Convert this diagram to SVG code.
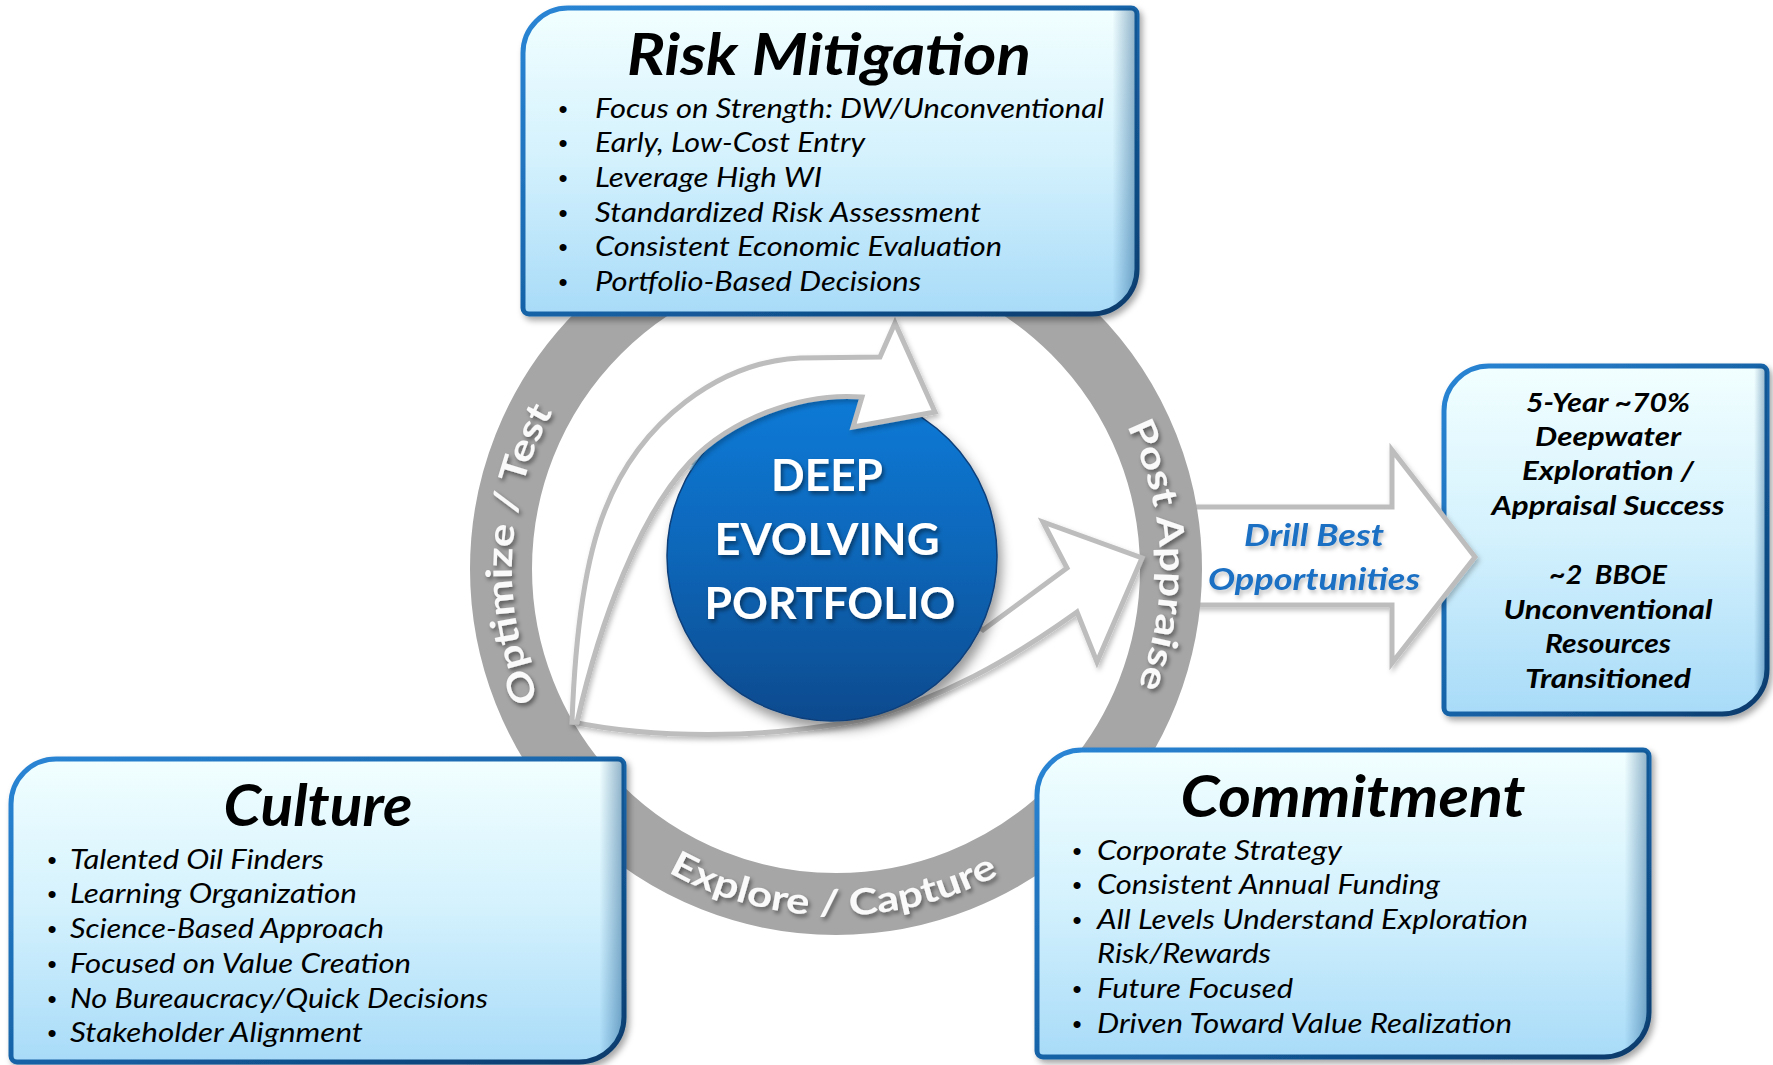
<svg xmlns="http://www.w3.org/2000/svg" width="1773" height="1065" viewBox="0 0 1773 1065">
<defs>
<style>
.box{fill:url(#boxFill);stroke:url(#boxStroke);stroke-width:5;filter:url(#sh)}
.edge{fill:url(#boxEdge);stroke:none}
.title{font-family:Lato,"Liberation Sans",sans-serif;font-weight:bold;font-style:italic;font-size:58px;fill:#000;text-anchor:middle}
.bl{font-family:Lato,"Liberation Sans",sans-serif;font-style:italic;font-size:27px;fill:#000}
.dot{font-family:"Liberation Sans",sans-serif;font-size:26px;fill:#000;text-anchor:middle}
.rt{font-family:Lato,"Liberation Sans",sans-serif;font-weight:bold;font-style:italic;font-size:27px;fill:#000;text-anchor:middle}
.ring{font-family:Lato,"Liberation Sans",sans-serif;font-weight:bold;font-size:36px;fill:#fafafa;filter:url(#tsh)}
.ctr{font-family:Lato,"Liberation Sans",sans-serif;font-weight:bold;font-size:44px;fill:#fff;text-anchor:middle;filter:url(#tsh)}
.drill{font-family:Lato,"Liberation Sans",sans-serif;font-weight:bold;font-style:italic;font-size:31px;fill:#1a6fc4;text-anchor:middle;filter:url(#tsh2)}
.arr{fill:#fff;stroke:#bdbdbd;stroke-width:5;stroke-linejoin:miter}
</style>
<linearGradient id="boxFill" x1="0" y1="0" x2="0" y2="1">
<stop offset="0" stop-color="#f2ffff"/><stop offset="0.5" stop-color="#d3f1fd"/><stop offset="1" stop-color="#a8dbf8"/>
</linearGradient>
<linearGradient id="boxStroke" x1="0" y1="0" x2="1" y2="1">
<stop offset="0" stop-color="#2a86d6"/><stop offset="0.6" stop-color="#145c9e"/><stop offset="1" stop-color="#0a3a6a"/>
</linearGradient>
<linearGradient id="boxEdge" x1="0" y1="0" x2="1" y2="0">
<stop offset="0.96" stop-color="#0a4a80" stop-opacity="0"/><stop offset="1" stop-color="#0a4a80" stop-opacity="0.45"/>
</linearGradient>
<linearGradient id="circFill" x1="0" y1="0" x2="0" y2="1">
<stop offset="0" stop-color="#0a7bd8"/><stop offset="0.5" stop-color="#0966b8"/><stop offset="1" stop-color="#0a4a8e"/>
</linearGradient>
<filter id="sh" x="-10%" y="-10%" width="125%" height="130%"><feDropShadow dx="3" dy="4" stdDeviation="3" flood-color="#000" flood-opacity="0.35"/></filter>
<filter id="csh" x="-20%" y="-20%" width="145%" height="145%"><feDropShadow dx="4" dy="8" stdDeviation="6" flood-color="#000" flood-opacity="0.4"/></filter>
<filter id="tsh" x="-10%" y="-20%" width="130%" height="150%"><feDropShadow dx="2" dy="3" stdDeviation="2" flood-color="#000" flood-opacity="0.45"/></filter>
<filter id="tsh2" x="-10%" y="-20%" width="130%" height="150%"><feDropShadow dx="2" dy="3" stdDeviation="2" flood-color="#000" flood-opacity="0.25"/></filter>
<filter id="ash" x="-10%" y="-10%" width="130%" height="130%"><feDropShadow dx="2" dy="3" stdDeviation="2.5" flood-color="#000" flood-opacity="0.25"/></filter>
<path id="pcw" d="M836,893 A324,324 0 1 1 836,245 A324,324 0 1 1 836,893"/>
<path id="pccw" d="M489.5,569 A346.5,346.5 0 0 0 1182.5,569"/>
</defs>
<rect width="1773" height="1065" fill="#fff"/>

<g id="result">
<path class="box" d="M1444,411 A45,45 0 0 1 1489,366 L1761,366 A6,6 0 0 1 1767,372 L1767,669 A45,45 0 0 1 1722,714 L1450,714 A6,6 0 0 1 1444,708 Z"/>
<path class="edge" d="M1444,411 A45,45 0 0 1 1489,366 L1761,366 A6,6 0 0 1 1767,372 L1767,669 A45,45 0 0 1 1722,714 L1450,714 A6,6 0 0 1 1444,708 Z"/>
<text class="rt" x="1608" y="412" textLength="164" lengthAdjust="spacingAndGlyphs">5-Year ~70%</text>
<text class="rt" x="1608" y="446" textLength="146" lengthAdjust="spacingAndGlyphs">Deepwater</text>
<text class="rt" x="1608" y="480" textLength="172" lengthAdjust="spacingAndGlyphs">Exploration /</text>
<text class="rt" x="1608" y="515" textLength="233" lengthAdjust="spacingAndGlyphs">Appraisal Success</text>
<text class="rt" x="1608" y="584" xml:space="preserve" textLength="118" lengthAdjust="spacingAndGlyphs">~2  BBOE</text>
<text class="rt" x="1608" y="619" textLength="209" lengthAdjust="spacingAndGlyphs">Unconventional</text>
<text class="rt" x="1608" y="653" textLength="126" lengthAdjust="spacingAndGlyphs">Resources</text>
<text class="rt" x="1608" y="688" textLength="166" lengthAdjust="spacingAndGlyphs">Transitioned</text>
</g>

<g id="connectors">
<g id="drill-arrow">
<path class="arr" filter="url(#ash)" d="M1150,507 L1392,507 L1392,450 L1475,557 L1392,663 L1392,605 L1150,605 Z"/>
<text class="drill" x="1314" y="546" textLength="140" lengthAdjust="spacingAndGlyphs">Drill Best</text>
<text class="drill" x="1314" y="590" textLength="212" lengthAdjust="spacingAndGlyphs">Opportunities</text>
</g>
</g>

<g id="cycle">
<circle cx="836" cy="569" r="335" fill="none" stroke="#a6a6a6" stroke-width="62"/>
<text class="ring"><textPath href="#pcw" startOffset="524" text-anchor="middle" textLength="298" lengthAdjust="spacingAndGlyphs">Optimize / Test</textPath></text>
<text class="ring"><textPath href="#pcw" startOffset="1512" text-anchor="middle" textLength="268" lengthAdjust="spacingAndGlyphs">Post Appraise</textPath></text>
<text class="ring"><textPath href="#pccw" startOffset="541" text-anchor="middle" textLength="345" lengthAdjust="spacingAndGlyphs">Explore / Capture</textPath></text>
</g>

<g id="lower-arrow">
<path class="arr" filter="url(#ash)" d="M577,722 C600,620 640,515 690,462 L760,470 L983,630 L1067,568 L1043,522 L1142,558 L1097,662 L1077,612 C1010,660 940,700 860,720 C760,740 650,738 572,722 Z"/>
</g>

<g id="portfolio">
<circle cx="832" cy="556" r="165" fill="url(#circFill)" stroke="#0a3f7a" stroke-width="1.5" filter="url(#csh)"/>
<path d="M690,470 A165,165 0 0 1 760,407" fill="none" stroke="#7fd0ff" stroke-width="2" opacity="0.6"/>
<text class="ctr" x="827" y="491" textLength="112" lengthAdjust="spacingAndGlyphs">DEEP</text>
<text class="ctr" x="827" y="555" textLength="225" lengthAdjust="spacingAndGlyphs">EVOLVING</text>
<text class="ctr" x="830" y="619" textLength="251" lengthAdjust="spacingAndGlyphs">PORTFOLIO</text>
</g>

<g id="upper-arrow">
<path class="arr" filter="url(#ash)" d="M572,722 C575,640 585,560 605,510 C640,420 720,362 800,358 L880,357 L895,323 L935,412 L853,427 L862,397 C800,392 730,420 690,462 C640,515 600,620 577,722 Z"/>
</g>

<g id="risk">
<path class="box" d="M523,53 A45,45 0 0 1 568,8 L1131,8 A6,6 0 0 1 1137,14 L1137,269 A45,45 0 0 1 1092,314 L529,314 A6,6 0 0 1 523,308 Z"/>
<path class="edge" d="M523,53 A45,45 0 0 1 568,8 L1131,8 A6,6 0 0 1 1137,14 L1137,269 A45,45 0 0 1 1092,314 L529,314 A6,6 0 0 1 523,308 Z"/>
<text class="title" x="829" y="75" textLength="404" lengthAdjust="spacingAndGlyphs">Risk Mitigation</text>
<text class="dot" x="563" y="118">•</text><text class="bl" x="595" y="118" textLength="509" lengthAdjust="spacingAndGlyphs">Focus on Strength: DW/Unconventional</text>
<text class="dot" x="563" y="152">•</text><text class="bl" x="595" y="152" textLength="270" lengthAdjust="spacingAndGlyphs">Early, Low-Cost Entry</text>
<text class="dot" x="563" y="187">•</text><text class="bl" x="595" y="187" textLength="227" lengthAdjust="spacingAndGlyphs">Leverage High WI</text>
<text class="dot" x="563" y="222">•</text><text class="bl" x="595" y="222" textLength="386" lengthAdjust="spacingAndGlyphs">Standardized Risk Assessment</text>
<text class="dot" x="563" y="256">•</text><text class="bl" x="595" y="256" textLength="407" lengthAdjust="spacingAndGlyphs">Consistent Economic Evaluation</text>
<text class="dot" x="563" y="291">•</text><text class="bl" x="595" y="291" textLength="326" lengthAdjust="spacingAndGlyphs">Portfolio-Based Decisions</text>
</g>

<g id="culture">
<path class="box" d="M11,804 A45,45 0 0 1 56,759 L618,759 A6,6 0 0 1 624,765 L624,1017 A45,45 0 0 1 579,1062 L17,1062 A6,6 0 0 1 11,1056 Z"/>
<path class="edge" d="M11,804 A45,45 0 0 1 56,759 L618,759 A6,6 0 0 1 624,765 L624,1017 A45,45 0 0 1 579,1062 L17,1062 A6,6 0 0 1 11,1056 Z"/>
<text class="title" x="318" y="826" textLength="189" lengthAdjust="spacingAndGlyphs">Culture</text>
<text class="dot" x="52" y="869">•</text><text class="bl" x="70" y="869" textLength="254" lengthAdjust="spacingAndGlyphs">Talented Oil Finders</text>
<text class="dot" x="52" y="903">•</text><text class="bl" x="70" y="903" textLength="287" lengthAdjust="spacingAndGlyphs">Learning Organization</text>
<text class="dot" x="52" y="938">•</text><text class="bl" x="70" y="938" textLength="314" lengthAdjust="spacingAndGlyphs">Science-Based Approach</text>
<text class="dot" x="52" y="973">•</text><text class="bl" x="70" y="973" textLength="341" lengthAdjust="spacingAndGlyphs">Focused on Value Creation</text>
<text class="dot" x="52" y="1008">•</text><text class="bl" x="70" y="1008" textLength="418" lengthAdjust="spacingAndGlyphs">No Bureaucracy/Quick Decisions</text>
<text class="dot" x="52" y="1042">•</text><text class="bl" x="70" y="1042" textLength="293" lengthAdjust="spacingAndGlyphs">Stakeholder Alignment</text>
</g>

<g id="commitment">
<path class="box" d="M1037,795 A45,45 0 0 1 1082,750 L1643,750 A6,6 0 0 1 1649,756 L1649,1012 A45,45 0 0 1 1604,1057 L1043,1057 A6,6 0 0 1 1037,1051 Z"/>
<path class="edge" d="M1037,795 A45,45 0 0 1 1082,750 L1643,750 A6,6 0 0 1 1649,756 L1649,1012 A45,45 0 0 1 1604,1057 L1043,1057 A6,6 0 0 1 1037,1051 Z"/>
<text class="title" x="1353" y="817" textLength="345" lengthAdjust="spacingAndGlyphs">Commitment</text>
<text class="dot" x="1077" y="860">•</text><text class="bl" x="1097" y="860" textLength="245" lengthAdjust="spacingAndGlyphs">Corporate Strategy</text>
<text class="dot" x="1077" y="894">•</text><text class="bl" x="1097" y="894" textLength="343" lengthAdjust="spacingAndGlyphs">Consistent Annual Funding</text>
<text class="dot" x="1077" y="929">•</text><text class="bl" x="1097" y="929" textLength="431" lengthAdjust="spacingAndGlyphs">All Levels Understand Exploration</text>
<text class="bl" x="1097" y="963" textLength="174" lengthAdjust="spacingAndGlyphs">Risk/Rewards</text>
<text class="dot" x="1077" y="998">•</text><text class="bl" x="1097" y="998" textLength="196" lengthAdjust="spacingAndGlyphs">Future Focused</text>
<text class="dot" x="1077" y="1033">•</text><text class="bl" x="1097" y="1033" textLength="415" lengthAdjust="spacingAndGlyphs">Driven Toward Value Realization</text>
</g>
</svg>
